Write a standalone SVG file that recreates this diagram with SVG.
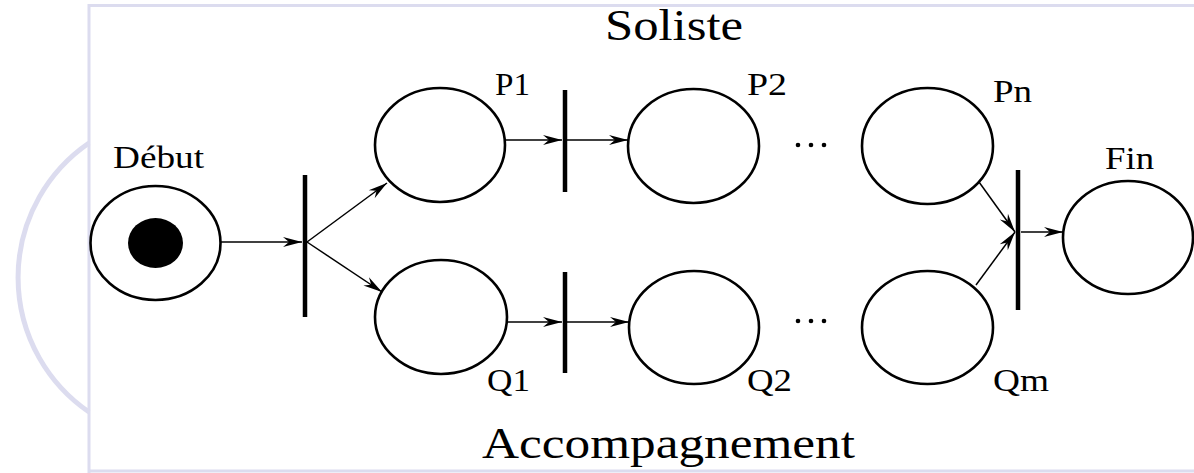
<svg xmlns="http://www.w3.org/2000/svg" width="1194" height="473" viewBox="0 0 1194 473">
<style>
.frame{fill:none;stroke:#dcdcef;stroke-width:3}
.place{fill:none;stroke:#000;stroke-width:2.6}
.trans{stroke:#000;stroke-width:4.5}
.arc{stroke:#000;stroke-width:1.5;fill:none;marker-end:url(#ah)}
.lbl{font-family:"Liberation Serif","Times New Roman",serif;font-size:31px;fill:#000}
.big{font-family:"Liberation Serif","Times New Roman",serif;font-size:44px;fill:#000}
</style>
<defs>
<marker id="ah" markerUnits="userSpaceOnUse" markerWidth="22" markerHeight="12" viewBox="-20 -6 22 12" refX="0" refY="0" orient="auto">
<path d="M0,0 L-19,-5 L-13,0 L-19,5 Z" fill="#000"/>
</marker>
</defs>
<rect width="1194" height="473" fill="#fff"/>
<g id="frame">
<line class="frame" x1="89" y1="5.5" x2="1194" y2="5.5"/>
<line class="frame" x1="89" y1="4" x2="89" y2="473"/>
<line class="frame" x1="89" y1="471" x2="1194" y2="471"/>
<path class="frame" style="stroke-width:5" d="M89,143 A163,163 0 0 0 89,412"/>
</g>
<g id="titles">
<text class="big" x="605" y="40" textLength="138" lengthAdjust="spacingAndGlyphs">Soliste</text>
<text class="big" x="482" y="458" textLength="373" lengthAdjust="spacingAndGlyphs">Accompagnement</text>
</g>
<g id="debut">
<ellipse class="place" cx="155.5" cy="243" rx="65" ry="57"/>
<ellipse cx="155.5" cy="243" rx="27.5" ry="25" fill="#000"/>
<text class="lbl" x="113" y="168" textLength="91" lengthAdjust="spacingAndGlyphs">Début</text>
</g>
<g id="t1"><line class="trans" x1="305" y1="175" x2="305" y2="317"/></g>
<g id="p1">
<ellipse class="place" cx="440" cy="145" rx="65" ry="57"/>
<text class="lbl" x="495" y="95" textLength="35" lengthAdjust="spacingAndGlyphs">P1</text>
</g>
<g id="q1">
<ellipse class="place" cx="441" cy="317" rx="66" ry="57"/>
<text class="lbl" x="487" y="391" textLength="43" lengthAdjust="spacingAndGlyphs">Q1</text>
</g>
<g id="t2"><line class="trans" x1="565" y1="90" x2="565" y2="192"/></g>
<g id="t3"><line class="trans" x1="565" y1="272" x2="565" y2="373"/></g>
<g id="p2">
<ellipse class="place" cx="693.5" cy="146" rx="65.5" ry="57"/>
<text class="lbl" x="747" y="95" textLength="40" lengthAdjust="spacingAndGlyphs">P2</text>
</g>
<g id="q2">
<ellipse class="place" cx="694" cy="327.5" rx="65" ry="56.5"/>
<text class="lbl" x="747" y="391" textLength="45" lengthAdjust="spacingAndGlyphs">Q2</text>
</g>
<g id="dots">
<circle cx="798" cy="145" r="2.3"/><circle cx="811" cy="145" r="2.3"/><circle cx="824" cy="145" r="2.3"/>
<circle cx="798" cy="321" r="2.3"/><circle cx="811" cy="321" r="2.3"/><circle cx="824" cy="321" r="2.3"/>
</g>
<g id="pn">
<ellipse class="place" cx="927.5" cy="146" rx="65.5" ry="58"/>
<text class="lbl" x="993" y="102" textLength="39" lengthAdjust="spacingAndGlyphs">Pn</text>
</g>
<g id="qm">
<ellipse class="place" cx="927.5" cy="327.5" rx="65.5" ry="56.5"/>
<text class="lbl" x="993" y="391" textLength="56" lengthAdjust="spacingAndGlyphs">Qm</text>
</g>
<g id="t4"><line class="trans" x1="1018" y1="170" x2="1018" y2="310"/></g>
<g id="fin">
<ellipse class="place" cx="1128" cy="237.5" rx="65" ry="56.5"/>
<text class="lbl" x="1105" y="169" textLength="49" lengthAdjust="spacingAndGlyphs">Fin</text>
</g>
<g id="connectors">
<line class="arc" x1="221" y1="242" x2="302" y2="242"/>
<line class="arc" x1="307" y1="242" x2="387" y2="183"/>
<line class="arc" x1="307" y1="242" x2="382" y2="292"/>
<line class="arc" x1="505" y1="140" x2="562" y2="140"/>
<line class="arc" x1="567" y1="140" x2="628" y2="140"/>
<line class="arc" x1="507" y1="322" x2="562" y2="322"/>
<line class="arc" x1="567" y1="322" x2="629" y2="322"/>
<line class="arc" x1="979" y1="182" x2="1015" y2="232"/>
<line class="arc" x1="976" y1="285" x2="1015" y2="232"/>
<line class="arc" x1="1021" y1="232" x2="1063" y2="232"/>
</g>
</svg>
